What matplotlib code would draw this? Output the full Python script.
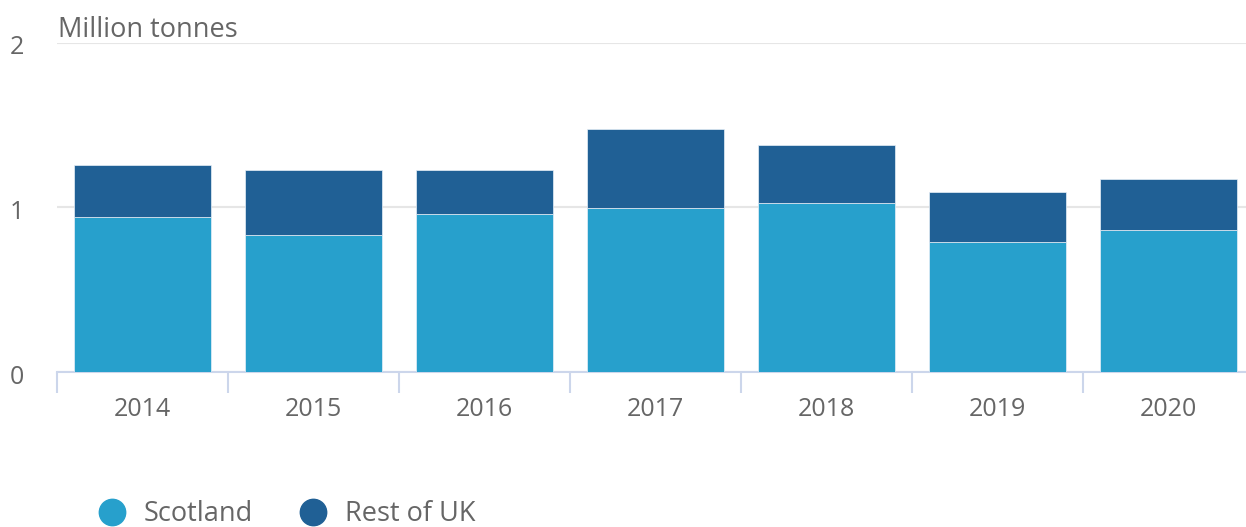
import matplotlib
matplotlib.use("Agg")
import matplotlib.pyplot as plt
from matplotlib.lines import Line2D
import matplotlib.transforms as mtransforms
import numpy as np

years = ["2014", "2015", "2016", "2017", "2018", "2019", "2020"]
scotland = [0.944, 0.836, 0.961, 0.999, 1.027, 0.792, 0.863]
rest_of_uk = [0.314, 0.392, 0.267, 0.476, 0.352, 0.300, 0.312]

plt.rcParams['font.family'] = ['Open Sans', 'DejaVu Sans']

W, H = 1246, 527
fig = plt.figure(figsize=(W / 100, H / 100), dpi=100)
left, right = 57, 1254
bottom, top = 372.3, 42.7
ax = fig.add_axes([left / W, 1 - bottom / H, (right - left) / W, (bottom - top) / H])

c_scot = "#27a0cc"
c_rest = "#206095"
x = np.arange(len(years))
ax.bar(x, scotland, width=0.8, color=c_scot, edgecolor="#e8f0f8", linewidth=0.5, zorder=3)
ax.bar(x, rest_of_uk, width=0.8, bottom=scotland, color=c_rest, edgecolor="#e8f0f8", linewidth=0.5, zorder=3)

ax.set_xlim(-0.5, len(years) - 0.5)
ax.set_ylim(0, 2)
ax.set_yticks([0, 1, 2])
ax.yaxis.grid(True, color="#e6e6e6", linewidth=1.5, zorder=0)
ax.tick_params(axis="y", length=0, labelsize=18, labelcolor="#666666", pad=34)
shift = mtransforms.ScaledTranslation(0, -5 / 100, fig.dpi_scale_trans)
for lab in ax.get_yticklabels():
    lab.set_horizontalalignment("left")
    lab.set_verticalalignment("center")
    lab.set_transform(lab.get_transform() + shift)

ax.set_xticks(x)
ax.set_xticklabels(years)
ax.tick_params(axis="x", length=0, labelsize=18, labelcolor="#666666", pad=18)
ax.set_xticks(np.arange(len(years) + 1) - 0.5, minor=True)
ax.tick_params(axis="x", which="minor", length=15, width=1.5, color="#ccd6eb", direction="out")

for s in ["top", "right", "left"]:
    ax.spines[s].set_visible(False)
ax.spines["bottom"].set_color("#ccd6eb")
ax.spines["bottom"].set_linewidth(1.5)
ax.set_axisbelow(True)

fig.text(58 / W, 1 - 30 / H, "Million tonnes", fontsize=19.5, color="#666666", va="center", ha="left")

handles = [Line2D([], [], marker="o", linestyle="none", markersize=19, color=c_scot),
           Line2D([], [], marker="o", linestyle="none", markersize=19, color=c_rest)]
fig.legend(handles, ["Scotland", "Rest of UK"], loc="center left", bbox_to_anchor=(98 / W, 1 - 514 / H),
           ncol=2, frameon=False, fontsize=19.5, labelcolor="#666666", handletextpad=0.7,
           columnspacing=1.7, handlelength=1.0, borderaxespad=0, borderpad=0)

fig.savefig("out.png", dpi=100)
